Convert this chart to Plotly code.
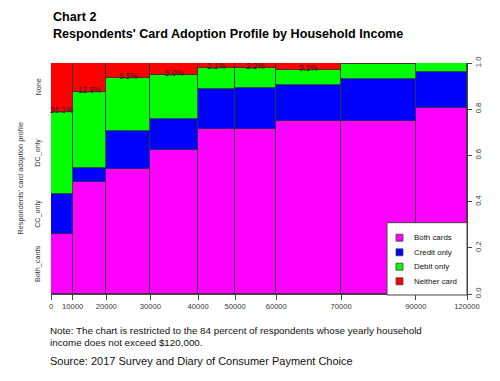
import numpy as np
import plotly.graph_objects as go

# ---- data ----
income_breaks = [0, 10000, 20000, 30000, 40000, 50000, 60000, 70000, 90000, 120000]
share = [0.052, 0.081, 0.106, 0.115, 0.089, 0.099, 0.156, 0.180, 0.123]
both_cards = [0.260, 0.485, 0.542, 0.625, 0.716, 0.713, 0.749, 0.747, 0.805]
credit_only = [0.174, 0.060, 0.165, 0.131, 0.171, 0.177, 0.157, 0.184, 0.154]
debit_only = [0.355, 0.329, 0.228, 0.194, 0.092, 0.088, 0.063, 0.063, 0.041]
neither_card = [0.211, 0.126, 0.065, 0.050, 0.021, 0.022, 0.031, 0.006, 0.0]
pct_labels = ["21.1%", "12.6%", "6.5%", "5.0%", "2.1%", "2.2%", "3.1%", "", ""]
profile_labels = ["Both_cards", "CC_only", "DC_only", "None"]
series_names = ["Both cards", "Credit only", "Debit only", "Neither card"]
series_colors = ["#FF00FF", "#0000FF", "#00FF00", "#FF0000"]
right_ticks = [0.0, 0.2, 0.4, 0.6, 0.8, 1.0]

FONT = "Arial, Liberation Sans, sans-serif"
OUTLINE = "#333333"

share_arr = np.array(share) / np.sum(share)
edges = np.concatenate([[0.0], np.cumsum(share_arr)])
mids = (edges[:-1] + edges[1:]) / 2
series = [both_cards, credit_only, debit_only, neither_card]

# ---- geometry (figure is offset 8px in the page by the body margin) ----
OFF = 8
W, H = 500 - OFF, 381 - OFF
ML, MR, MT, MB = 43, 33, 55, 87
PW, PH = W - ML - MR, H - MT - MB


def fx(xpage):
    return ((xpage - OFF) - ML) / PW


def fy(ypage):
    return ((H - MB) - (ypage - OFF)) / PH


fig = go.Figure()
for name, vals, col in zip(series_names, series, series_colors):
    fig.add_trace(go.Bar(
        x=mids, y=vals, width=share_arr, name=name, showlegend=False,
        marker=dict(color=col, line=dict(color=OUTLINE, width=0.8)),
        hoverinfo="skip",
    ))

annotations = []
shapes = []

# percentage labels at the top of the green segments
for xm, nv, lab in zip(mids, neither_card, pct_labels):
    if lab:
        annotations.append(dict(
            x=xm, y=1 - nv, xref="x", yref="y", text=lab, showarrow=False,
            yanchor="bottom", xanchor="center", yshift=-5,
            font=dict(family=FONT, size=8.2, color="#222"),
        ))

# left category labels at midpoints of first column segments
first_col = [s[0] for s in series]
cum_first = np.concatenate([[0.0], np.cumsum(first_col)])
left_ticks = (cum_first[:-1] + cum_first[1:]) / 2
for yv, lab in zip(left_ticks, profile_labels):
    annotations.append(dict(
        x=fx(38), y=yv, xref="paper", yref="y", text=lab, showarrow=False,
        textangle=-90, xanchor="center", yanchor="middle",
        font=dict(family=FONT, size=7.2, color="#333"),
    ))
annotations.append(dict(
    x=fx(20), y=0.5, xref="paper", yref="paper",
    text="Respondents' card adoption profile", showarrow=False,
    textangle=-90, xanchor="center", yanchor="middle",
    font=dict(family=FONT, size=7.3, color="#333"),
))

# titles
annotations.append(dict(
    x=fx(50.5), y=fy(17), xref="paper", yref="paper", xanchor="left", yanchor="middle",
    showarrow=False, text="<b>Chart 2</b>",
    font=dict(family=FONT, size=12.6, color="#000"),
))
annotations.append(dict(
    x=fx(50.5), y=fy(33.5), xref="paper", yref="paper", xanchor="left", yanchor="middle",
    showarrow=False, text="<b>Respondents' Card Adoption Profile by Household Income</b>",
    font=dict(family=FONT, size=12.6, color="#000"),
))

# note and source
annotations.append(dict(
    x=fx(48.3), y=fy(330.7), xref="paper", yref="paper", xanchor="left", yanchor="middle",
    showarrow=False,
    text="Note: The chart is restricted to the 84 percent of respondents whose yearly household",
    font=dict(family=FONT, size=9.8, color="#111"),
))
annotations.append(dict(
    x=fx(48.3), y=fy(342.3), xref="paper", yref="paper", xanchor="left", yanchor="middle",
    showarrow=False, text="income does not exceed $120,000.",
    font=dict(family=FONT, size=9.8, color="#111"),
))
annotations.append(dict(
    x=fx(48.3), y=fy(361), xref="paper", yref="paper", xanchor="left", yanchor="middle",
    showarrow=False, text="Source: 2017 Survey and Diary of Consumer Payment Choice",
    font=dict(family=FONT, size=11, color="#111"),
))

# legend box (drawn in the corner like the R legend)
shapes.append(dict(
    type="rect", xref="paper", yref="paper",
    x0=fx(387), x1=fx(467), y0=fy(295), y1=fy(222.7),
    fillcolor="white", line=dict(color="#444", width=1), layer="above",
))
leg_y = [237.7, 252.3, 266.7, 281.3]
for yc, name, col in zip(leg_y, series_names, series_colors):
    shapes.append(dict(
        type="rect", xref="paper", yref="paper",
        x0=fx(396), x1=fx(403), y0=fy(yc + 3.5), y1=fy(yc - 3.5),
        fillcolor=col, line=dict(color="#444", width=0.8), layer="above",
    ))
    annotations.append(dict(
        x=fx(411.5), y=fy(yc), xref="paper", yref="paper", xanchor="left",
        yanchor="middle", showarrow=False, text=name,
        font=dict(family=FONT, size=7.9, color="#111"),
    ))

fig.update_layout(
    width=W, height=H,
    margin=dict(l=ML, r=MR, t=MT, b=MB, autoexpand=False),
    paper_bgcolor="white", plot_bgcolor="white",
    barmode="stack", bargap=0, showlegend=False,
    font=dict(family=FONT, size=8, color="#333"),
    xaxis=dict(
        range=[0, 1], tickvals=edges, ticktext=[str(v) for v in income_breaks],
        ticks="outside", ticklen=5, tickcolor="#444", showline=True, linecolor="#444",
        linewidth=1, showgrid=False, zeroline=False, automargin=False,
        tickfont=dict(family=FONT, size=7.6, color="#333"),
    ),
    yaxis=dict(
        range=[0, 1], side="right",
        tickvals=right_ticks, ticktext=["%.1f" % v for v in right_ticks], tickangle=-90,
        ticks="outside", ticklen=4, tickcolor="#444", showline=True, linecolor="#444",
        linewidth=1, showgrid=False, zeroline=False, automargin=False,
        tickfont=dict(family=FONT, size=7.6, color="#333"),
    ),
    annotations=annotations,
    shapes=shapes,
)

fig.write_html("out.html")
